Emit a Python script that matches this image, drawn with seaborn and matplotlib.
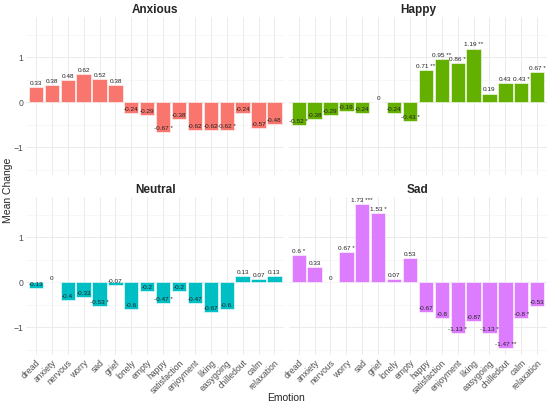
import numpy as np
import pandas as pd
import matplotlib
matplotlib.use("Agg")
import matplotlib.pyplot as plt
import seaborn as sns

emotions = ["dread", "anxiety", "nervous", "worry", "sad", "grief", "lonely", "empty",
            "happy", "satisfaction", "enjoyment", "liking", "easygoing", "chilledout",
            "calm", "relaxation"]
conditions = ["Anxious", "Happy", "Neutral", "Sad"]

anxious_vals = [0.33, 0.38, 0.48, 0.62, 0.52, 0.38, -0.24, -0.29,
                -0.67, -0.38, -0.62, -0.62, -0.62, -0.24, -0.57, -0.48]
anxious_sig = ["", "", "", "", "", "", "", "", "*", "", "", "", "*", "", "", ""]

happy_vals = [-0.52, -0.38, -0.29, -0.19, -0.24, 0, -0.24, -0.43,
              0.71, 0.95, 0.86, 1.19, 0.19, 0.43, 0.43, 0.67]
happy_sig = ["*", "", "", "", "", "", "", "*", "**", "**", "*", "**", "", "", "*", "*"]

neutral_vals = [-0.13, 0, -0.4, -0.33, -0.53, -0.07, -0.6, -0.2,
                -0.47, -0.2, -0.47, -0.67, -0.6, 0.13, 0.07, 0.13]
neutral_sig = ["", "", "", "", "*", "", "", "", "*", "", "", "", "", "", "", ""]

sad_vals = [0.6, 0.33, 0, 0.67, 1.73, 1.53, 0.07, 0.53,
            -0.67, -0.8, -1.13, -0.87, -1.13, -1.47, -0.8, -0.53]
sad_sig = ["*", "", "", "*", "***", "*", "", "", "", "", "*", "", "*", "**", "*", ""]

colors = {"Anxious": "#F8766D", "Happy": "#64B000", "Neutral": "#00BFC4", "Sad": "#DD7CFF"}

rows = []
for cond, vals, sig in zip(conditions,
                           [anxious_vals, happy_vals, neutral_vals, sad_vals],
                           [anxious_sig, happy_sig, neutral_sig, sad_sig]):
    for emo, v, s in zip(emotions, vals, sig):
        rows.append({"condition": cond, "emotion": emo, "mean_change": v, "sig": s})
df = pd.DataFrame(rows)

sns.set_theme(style="whitegrid")
plt.rcParams["font.family"] = ["Liberation Sans", "DejaVu Sans"]

fig, axes = plt.subplots(2, 2, figsize=(5.5, 4.05), dpi=100, sharex=True, sharey=True)
fig.subplots_adjust(left=0.048, right=0.994, bottom=0.1225, top=0.958,
                    wspace=0.02, hspace=0.136)

for ax, cond in zip(axes.flat, conditions):
    sub = df[df["condition"] == cond]
    sns.barplot(data=sub, x="emotion", y="mean_change", order=emotions, ax=ax,
                color=colors[cond], saturation=1, width=0.9,
                edgecolor="white", linewidth=0.4, errorbar=None)
    # value labels, stars in a smaller size like the original
    for i, (v, s) in enumerate(zip(sub["mean_change"], sub["sig"])):
        label = f"{v:g}" + (f" {s}" if s else "")
        ax.annotate(label, (i, v), xytext=(0, 0.8), textcoords="offset points",
                    ha="center", va="bottom", fontsize=4.6, color="#222222")
    ax.set_title(cond, fontsize=8.5, fontweight="bold", pad=3)
    ax.set_xlabel("")
    ax.set_ylabel("")
    ax.set_facecolor("white")
    for sp in ax.spines.values():
        sp.set_visible(False)
    ax.set_ylim(-1.63, 1.89)
    ax.set_xlim(-0.6, 15.6)
    ax.set_yticks([-1, 0, 1])
    ax.set_yticks([-1.5, -0.5, 0.5, 1.5], minor=True)
    ax.grid(True, which="major", color="#EBEBEB", linewidth=0.7)
    ax.grid(True, which="minor", axis="y", color="#F2F2F2", linewidth=0.4)
    ax.tick_params(axis="both", which="both", length=0, labelsize=6.2,
                   labelcolor="#4D4D4D", pad=2)
    ax.set_axisbelow(True)

for ax in axes[1]:
    ax.set_xticks(range(len(emotions)))
    ax.set_xticklabels(emotions, rotation=45, ha="right", rotation_mode="anchor")

fig.text(0.015, 0.53, "Mean Change", rotation=90, ha="center", va="center", fontsize=7.5)
fig.text(0.52, 0.017, "Emotion", ha="center", va="center", fontsize=7.5)

fig.savefig("out.png", dpi=100, facecolor="white")
